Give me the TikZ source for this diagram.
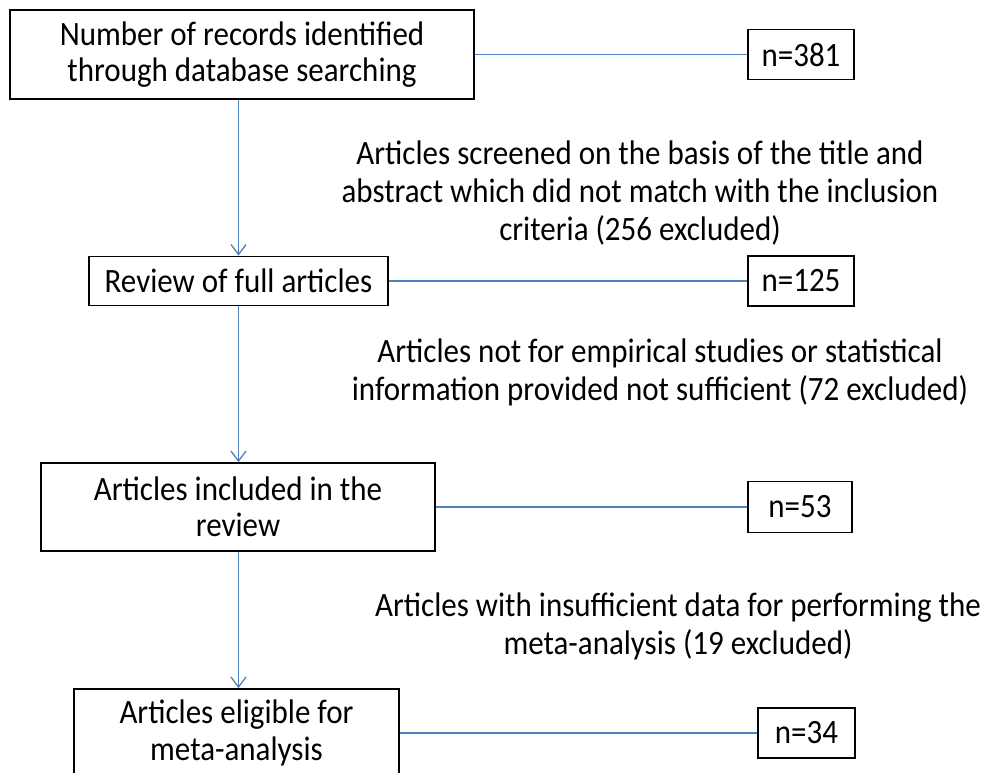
\documentclass[tikz,border=0pt]{standalone}
\usepackage{fontspec}
\setmainfont{Carlito}
\usetikzlibrary{arrows.meta}
\definecolor{flowblue}{HTML}{4F81BD}
\tikzset{
  tall/.style={yscale=1.1, transform shape},
  stagebox/.style={tall, draw=black, line width=1.6pt, inner sep=0pt, align=center,
    font=\fontsize{31}{33}\selectfont},
  countbox/.style={tall, draw=black, line width=1.6pt, inner sep=0pt,
    font=\fontsize{31}{33}\selectfont},
  note/.style={tall, inner sep=0pt, align=center, font=\fontsize{31}{34.5}\selectfont},
  link/.style={draw=flowblue, line width=1.3pt},
  flow/.style={draw=flowblue, line width=1.3pt, -{Straight Barb[length=10pt,width=15pt,line width=1.3pt]}}
}
\begin{document}
\begin{tikzpicture}[x=1pt,y=-1pt]
\useasboundingbox (0,0) rectangle (987,773);
\clip (0,0) rectangle (987,773);
\fill[white] (0,0) rectangle (987,773);

\node[stagebox, minimum width=464pt, minimum height=81pt] (b1) at (242,54.5)
  {Number of records identified\\through database searching};
\node[stagebox, minimum width=299pt, minimum height=44.5pt] (b2) at (238.5,281)
  {Review of full articles};
\node[stagebox, minimum width=394pt, minimum height=80pt] (b3) at (238,507)
  {Articles included in the\\review};
\node[stagebox, minimum width=325pt, minimum height=80pt] (b4) at (236.5,733)
  {Articles eligible for\\meta-analysis};

\node[countbox, minimum width=106pt, minimum height=45.5pt] (n1) at (801,54.5) {n=381};
\node[countbox, minimum width=106pt, minimum height=45.5pt] (n2) at (801,281) {n=125};
\node[countbox, minimum width=104pt, minimum height=46.4pt] (n3) at (800,507) {n=53};
\node[countbox, minimum width=97pt, minimum height=45.5pt] (n4) at (806.5,733) {n=34};

\node[note] (t1) at (640,193)
  {Articles screened on the basis of the title and\\abstract which did not match with the inclusion\\criteria (256 excluded)};
\node[note] (t2) at (660,372.5)
  {Articles not for empirical studies or statistical\\information provided not sufficient (72 excluded)};
\node[note] (t3) at (678,626)
  {Articles with insufficient data for performing the\\meta-analysis (19 excluded)};

\draw[link] (b1.east) -- (n1.west |- b1.east);
\draw[link] (b2.east) -- (n2.west |- b2.east);
\draw[link] (b3.east) -- (n3.west |- b3.east);
\draw[link] (b4.east |- n4.west) -- (n4.west);

\draw[flow] (b1.south -| b2.north) -- (b2.north);
\draw[flow] (b2.south) -- (b3.north -| b2.south);
\draw[flow] (b3.south -| b2.south) -- (b4.north -| b2.south);
\end{tikzpicture}
\end{document}
